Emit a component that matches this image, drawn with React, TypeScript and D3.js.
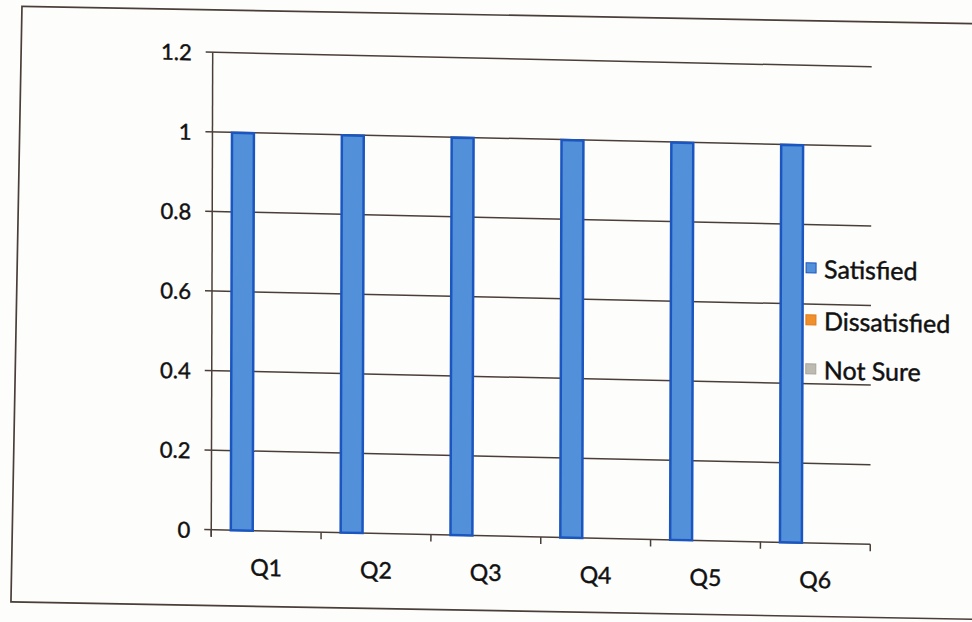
import React from "react";
import * as d3 from "d3";

const categories = ["Q1", "Q2", "Q3", "Q4", "Q5", "Q6"];
const seriesNames = ["Satisfied", "Dissatisfied", "Not Sure"];
const satisfied = [1, 1, 1, 1, 1, 1];
const dissatisfied = [0, 0, 0, 0, 0, 0];
const notSure = [0, 0, 0, 0, 0, 0];
const yTicks = [0, 0.2, 0.4, 0.6, 0.8, 1, 1.2];
const yTickLabels = ["0", "0.2", "0.4", "0.6", "0.8", "1", "1.2"];

const seriesValues = [satisfied, dissatisfied, notSure];
const seriesFill = ["#5290da", "#f0902c", "#bdbab2"];
const seriesStroke = ["#1b56c0", "#e07a18", "#a8a59d"];

const W = 972;
const H = 622;
const FONT = "Lato, 'Open Sans', 'DejaVu Sans', sans-serif";
const INK = "#4a3f38";

export default function App() {
  const x0 = 212, x1 = 871, yBottom = 537, yTop = 59.5;
  const x = d3.scaleBand<string>().domain(categories).range([x0, x1]).paddingInner(0).paddingOuter(0);
  const inner = d3
    .scaleBand<string>()
    .domain(seriesNames)
    .range([0, x.bandwidth()])
    .paddingInner(0)
    .paddingOuter(0.75);
  const y = d3.scaleLinear().domain([0, 1.2]).range([yBottom, yTop]);

  // slight scan distortion
  const cx = 541, cy = 291;
  const mainT = `translate(${cx},${cy}) matrix(1,0.022,-0.003,1,0,0) translate(${-cx},${-cy})`;
  const bx = 491, by = 311;
  const borderT = `translate(${bx},${by}) matrix(1,0.018,-0.0185,1,0,0) translate(${-bx},${-by})`;

  const boundaries = categories.map((c) => x(c) as number).concat([x1]);

  const legendY = [262, 314, 363];
  const textStyle = { fill: "#111", stroke: "#111", strokeWidth: 0.45 };

  return (
    <div style={{ position: "absolute", left: 0, top: 0, width: W, height: H }}>
      <svg width={W} height={H} style={{ display: "block", background: "#fefefe" }}>
        <rect x={0} y={0} width={W} height={H} fill="#fdfdfc" />
        <g transform={borderT}>
          <rect x={16.5} y={15} width={1000} height={595.5} fill="none" stroke={INK} strokeWidth={1.7} />
        </g>
        <g transform={mainT} fontFamily={FONT}>
          {/* gridlines */}
          {yTicks.map((t, i) => (
            <g key={"g" + i}>
              <line x1={x0 - 7} x2={x1} y1={y(t)} y2={y(t)} stroke={INK} strokeWidth={1.5} />
              <text
                x={x0 - 21}
                y={y(t)}
                textAnchor="end"
                dominantBaseline="central"
                fontSize={22}
                style={textStyle}
              >
                {yTickLabels[i]}
              </text>
            </g>
          ))}
          {/* y axis */}
          <line x1={x0} x2={x0} y1={yTop} y2={yBottom + 7} stroke={INK} strokeWidth={1.5} />
          {/* x ticks */}
          {boundaries.map((b, i) => (
            <line key={"t" + i} x1={b} x2={b} y1={yBottom} y2={yBottom + 7} stroke={INK} strokeWidth={1.5} />
          ))}
          {/* bars */}
          {seriesNames.map((s, si) =>
            categories.map((c, ci) => {
              const v = seriesValues[si][ci];
              if (v <= 0) return null;
              const bxp = (x(c) as number) + (inner(s) as number);
              return (
                <rect
                  key={s + c}
                  x={bxp + 1.25}
                  y={y(v) + 0.5}
                  width={inner.bandwidth() - 2.5}
                  height={y(0) - y(v) - 0.5}
                  fill={seriesFill[si]}
                  stroke={seriesStroke[si]}
                  strokeWidth={2.5}
                />
              );
            })
          )}
          {/* x labels */}
          {categories.map((c) => (
            <text
              key={"l" + c}
              x={(x(c) as number) + x.bandwidth() / 2}
              y={582}
              textAnchor="middle"
              fontSize={23}
              style={textStyle}
            >
              {c}
            </text>
          ))}
          {/* legend */}
          {seriesNames.map((s, i) => (
            <g key={"lg" + s}>
              <rect x={806} y={legendY[i] - 5} width={10} height={10} fill={seriesFill[i]} stroke={seriesStroke[i]} strokeWidth={1} />
              <text x={824} y={legendY[i]} dominantBaseline="central" fontSize={25} style={textStyle}>
                {s}
              </text>
            </g>
          ))}
        </g>
      </svg>
    </div>
  );
}
